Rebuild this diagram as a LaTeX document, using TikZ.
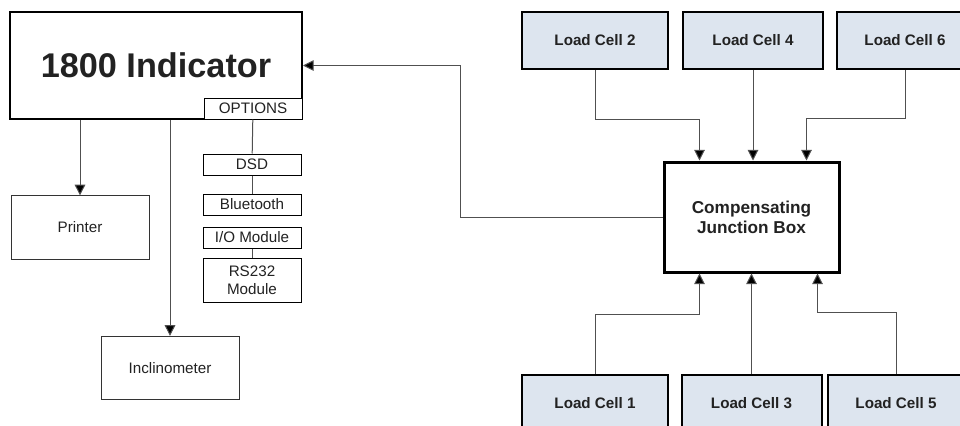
\documentclass[tikz,border=0pt]{standalone}
\usepackage{fontspec}
\setmainfont{Liberation Sans}
\usetikzlibrary{arrows.meta,calc}
\definecolor{cellfill}{RGB}{221,229,239}
\definecolor{ink}{RGB}{34,34,34}
\definecolor{wire}{RGB}{80,80,80}
\begin{document}
\begin{tikzpicture}[
  x=0.75pt, y=-0.75pt,
  every node/.style = {shape=rectangle, align=center,
    text=ink, inner sep=0pt},
  indbox/.style = {draw=black, fill=white, line width=1.5pt,
    minimum width=219pt, minimum height=80.25pt,
    font=\fontsize{25.7}{30}\selectfont\bfseries},
  optbox/.style = {draw=black, fill=white, line width=0.75pt,
    minimum width=73.5pt, minimum height=15.75pt,
    font=\fontsize{11.4}{13.5}\selectfont},
  devbox/.style = {draw=black!80, line width=0.75pt,
    minimum width=103.5pt, minimum height=47.5pt,
    font=\fontsize{11.4}{13.5}\selectfont},
  cellbox/.style = {draw=black, fill=cellfill, line width=1.5pt,
    minimum height=42.75pt,
    font=\fontsize{11.4}{13.5}\selectfont\bfseries},
  jbox/.style = {draw=black, fill=white, line width=2.25pt,
    minimum width=131.25pt, minimum height=82.5pt,
    font=\fontsize{12.9}{15}\selectfont\bfseries},
  conn/.style = {draw=wire, line width=0.75pt,
    -{Triangle[length=8pt,width=8pt,fill=black]}},
  link/.style = {draw=wire, line width=0.75pt}]
\clip (0,0) rectangle (960,425);
\node[indbox] (ind) at (156,65.5) {1800 Indicator};
\node[optbox] (opt) at (253,108.5) {OPTIONS};
\node[optbox] (dsd) at (252,164.5) {DSD};
\node[optbox] (bt) at (252,204.5) {Bluetooth};
\node[optbox] (io) at (252,237.5) {I/O Module};
\node[optbox, minimum height=33pt] (rs) at (252,280) {RS232\\Module};
\node[devbox] (prn) at (80,227.5) {Printer};
\node[devbox] (inc) at (170,368) {Inclinometer};
\node[jbox] (jb) at (751.5,217) {Compensating\\Junction Box};
\node[cellbox, minimum width=109.5pt] (lc2) at (595,40.5) {Load Cell 2};
\node[cellbox, minimum width=105pt] (lc4) at (753,40.5) {Load Cell 4};
\node[cellbox, minimum width=102pt] (lc6) at (905,40.5) {Load Cell 6};
\node[cellbox, minimum width=109.5pt] (lc1) at (595,403.5) {Load Cell 1};
\node[cellbox, minimum width=105pt] (lc3) at (751.5,403.5) {Load Cell 3};
\node[cellbox, minimum width=102pt] (lc5) at (896,403.5) {Load Cell 5};
\draw[conn] (ind.south -| prn.north) -- (prn.north);
\draw[conn] (ind.south -| inc.north) -- (inc.north);
\draw[link] (opt) -- (dsd);
\draw[link] (dsd) -- (bt);
\draw[link] (io) -- (rs);
\draw[conn] (jb.west) -- ++(-202,0) |- (ind.east);
\draw[conn] (lc2.south) -- ++(0,49) -| ($(jb.north)+(-52,0)$);
\draw[conn] (lc4.south) -- (lc4.south |- jb.north);
\draw[conn] (lc6.south) -- ++(0,48) -| ($(jb.north)+(55,0)$);
\draw[conn] (lc1.north) -- ++(0,-60) -| ($(jb.south)+(-52,0)$);
\draw[conn] (lc3.north) -- (lc3.north |- jb.south);
\draw[conn] (lc5.north) -- ++(0,-62) -| ($(jb.south)+(66,0)$);
\end{tikzpicture}
\end{document}
